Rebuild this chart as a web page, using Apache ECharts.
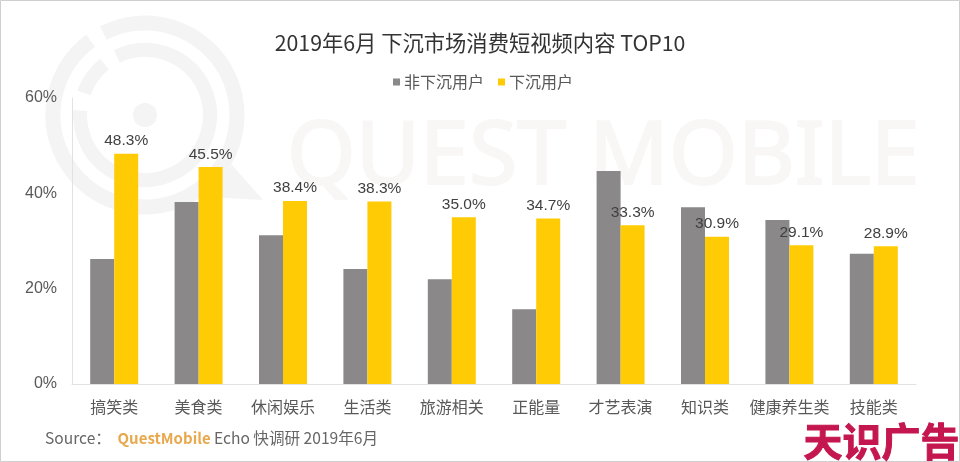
<!DOCTYPE html>
<html>
<head>
    <meta charset="UTF-8">
    <title>2019年6月 下沉市场消费短视频内容 TOP10</title>
    <script src="https://cdn.jsdelivr.net/npm/echarts@6/dist/echarts.min.js"></script>
    <style type="text/css">
    html, body { margin: 0; padding: 0; background: #fff; }
    #chart { width: 960px; height: 462px; }
    </style>
</head>
<body>
    <div id="chart"></div>

<script type="text/javascript">
var categories = ['搞笑类', '美食类', '休闲娱乐', '生活类', '旅游相关', '正能量', '才艺表演', '知识类', '健康养生类', '技能类'];
var nonSinking = [26.2, 38.2, 31.2, 24.1, 22.0, 15.7, 44.7, 37.1, 34.4, 27.3];
var sinking = [48.3, 45.5, 38.4, 38.3, 35.0, 34.7, 33.3, 30.9, 29.1, 28.9];
var seriesNames = ['非下沉用户', '下沉用户'];
var axisTicks = [0, 20, 40, 60];

var fontName = '"Noto Sans CJK SC", "Noto Sans", sans-serif';
var latinName = '"Liberation Sans", "Noto Sans CJK SC", sans-serif';
var wmColor = '#f5f4f4';
var wmTextColor = '#f9f6f6';

var myChart = echarts.init(document.getElementById('chart'));

var option = {
    backgroundColor: '#fff',
    animation: false,
    textStyle: { fontFamily: fontName },
    title: {
        text: '2019年6月 下沉市场消费短视频内容 TOP10',
        left: 'center',
        top: 27,
        textStyle: { color: '#333', fontSize: 21.3, fontWeight: 'normal', fontFamily: fontName }
    },
    legend: {
        data: seriesNames,
        top: 69,
        left: 388,
        icon: 'rect',
        itemWidth: 7,
        itemHeight: 7,
        itemGap: 14,
        textStyle: { color: '#595959', fontSize: 16, padding: [0, 0, 0, -1] }
    },
    grid: { left: 72, right: 44, top: 98, bottom: 78 },
    xAxis: {
        type: 'category',
        data: categories,
        axisTick: { show: false },
        axisLine: { lineStyle: { color: '#e2e2e2' } },
        axisLabel: { color: '#595959', fontSize: 16, margin: 15, interval: 0 }
    },
    yAxis: {
        type: 'value',
        min: axisTicks[0],
        max: axisTicks[axisTicks.length - 1],
        interval: 20,
        splitLine: { show: false },
        axisTick: { show: false },
        axisLine: { show: true, lineStyle: { color: '#e2e2e2' } },
        axisLabel: { color: '#595959', fontSize: 16, margin: 15, fontFamily: latinName, formatter: '{value}%' }
    },
    series: [{
        name: seriesNames[0],
        type: 'bar',
        data: nonSinking,
        barWidth: 24,
        barGap: 0,
        itemStyle: { color: '#8a8888' }
    }, {
        name: seriesNames[1],
        type: 'bar',
        data: sinking,
        barWidth: 24,
        itemStyle: { color: '#ffcb05' },
        label: {
            show: true,
            position: 'top',
            distance: 5,
            color: '#404040',
            fontSize: 15.5,
            fontFamily: latinName,
            formatter: function (p) { return p.value.toFixed(1) + '%'; }
        }
    }],
    graphic: [
        // 外框
        { type: 'rect', z: -10, shape: { x: 0.5, y: 0.5, width: 959, height: 461 }, style: { fill: 'none', stroke: '#cfcfcf', lineWidth: 1 } },
        // 水印 logo
        { type: 'arc', z: -5, shape: { cx: 145, cy: 115, r: 92, startAngle: -2.04, endAngle: 4.08 }, style: { fill: 'none', stroke: wmColor, lineWidth: 15 } },
        { type: 'arc', z: -5, shape: { cx: 145, cy: 115, r: 65, startAngle: -2.02, endAngle: 3.21 }, style: { fill: 'none', stroke: wmColor, lineWidth: 14 } },
        { type: 'arc', z: -5, shape: { cx: 145, cy: 115, r: 65, startAngle: 3.49, endAngle: 4.04 }, style: { fill: 'none', stroke: wmColor, lineWidth: 14 } },
        { type: 'circle', z: -5, shape: { cx: 145, cy: 115, r: 12 }, style: { fill: wmColor } },
        { type: 'polygon', z: -5, shape: { points: [[232, 165], [263, 200], [205, 197]] }, style: { fill: wmColor } },
        // 水印文字
        { type: 'text', z: -5, left: 286, top: 114, style: { text: 'QUEST MOBILE', fill: wmTextColor, stroke: wmTextColor, lineWidth: 2, fontSize: 88, fontFamily: '"Noto Sans", sans-serif', fontWeight: 'normal' } },
        // 来源
        {
            type: 'text', left: 45, top: 430,
            style: {
                text: '{a|Source：}  {b|QuestMobile} {a|Echo 快调研 2019年6月}',
                rich: {
                    a: { fill: '#666', fontSize: 15.6, fontFamily: fontName },
                    b: { fill: '#e8a84c', fontSize: 15, fontFamily: fontName, fontWeight: 'bold' }
                }
            }
        },
        // 角标
        { type: 'text', left: 803, top: 421, style: { text: '天识广告', fill: '#c4164f', stroke: '#c4164f', lineWidth: 1, fontSize: 39, fontWeight: 'bold', fontFamily: fontName } }
    ]
};

myChart.setOption(option);
</script>
</body>
</html>
